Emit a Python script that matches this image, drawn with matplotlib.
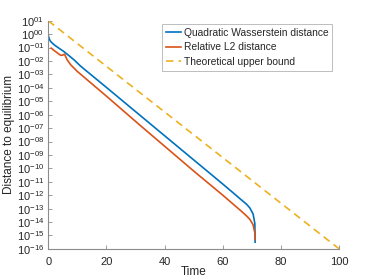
import numpy as np
import matplotlib
matplotlib.use('Agg')
import matplotlib.pyplot as plt
from matplotlib.ticker import FixedLocator, NullLocator

plt.rcParams['font.family'] = ['Liberation Sans', 'DejaVu Sans']
plt.rcParams['mathtext.fontset'] = 'custom'
plt.rcParams['mathtext.rm'] = 'Liberation Sans'
plt.rcParams['mathtext.it'] = 'Liberation Sans'

# --- data (log10 of the distance) ---
wass_t = [0, 0.4, 0.8, 2.0, 3.5, 5.4, 8.8, 11.1, 20, 30, 40, 50, 60, 63, 66, 68.2, 69.3, 70.4, 71.0, 71.1]
wass_log10 = [-0.09, -0.38, -0.54, -0.79, -1.02, -1.30, -1.90, -2.38, -3.97, -5.77, -7.57, -9.37, -11.17,
              -11.72, -12.28, -12.68, -12.95, -13.4, -14.1, -15.5]

l2_t = [1.0, 2.5, 3.7, 4.3, 5.0, 5.6, 6.5, 7.7, 10, 20, 31.5, 40, 50, 60, 63, 66, 68.2, 69.3, 70.4, 71.0, 71.1]
l2_log10 = [-1.04, -1.30, -1.49, -1.58, -1.56, -1.49, -1.91, -2.28, -2.78, -4.62, -6.78, -8.35, -10.2,
            -12.0, -12.56, -13.12, -13.55, -13.8, -14.2, -14.8, -15.3]

bound_t = [0, 100]
bound_log10 = [1, -16]

y_exponents = list(range(1, -17, -1))
x_ticks = [0, 20, 40, 60, 80, 100]

blue = '#0072BD'
orange = '#D95319'
yellow = '#EDB120'
dark = '#262626'

fig = plt.figure(figsize=(3.74, 2.80), dpi=100)
ax = fig.add_axes([0.129, 0.111, 0.778, 0.815])

ax.semilogy(wass_t, 10.0 ** np.array(wass_log10), color=blue, lw=1.2,
            label='Quadratic Wasserstein distance')
ax.semilogy(l2_t, 10.0 ** np.array(l2_log10), color=orange, lw=1.2,
            label='Relative L2 distance')
ax.semilogy(bound_t, 10.0 ** np.array(bound_log10), color=yellow, lw=1.2,
            dashes=(4.5, 3), label='Theoretical upper bound')

ax.set_xlim(0, 100)
ax.set_ylim(1e-16, 1e1)

ax.xaxis.set_major_locator(FixedLocator(x_ticks))
ax.set_xticklabels([str(v) for v in x_ticks])
ax.yaxis.set_major_locator(FixedLocator([10.0 ** e for e in y_exponents]))
ax.yaxis.set_minor_locator(NullLocator())
ax.set_yticklabels([r'$10^{%s}$' % ('%02d' % e if e >= 0 else '-%02d' % -e) for e in y_exponents])

for side in ['top', 'right']:
    ax.spines[side].set_visible(False)
for side in ['left', 'bottom']:
    ax.spines[side].set_color('#8c8c8c')
    ax.spines[side].set_linewidth(0.8)

ax.tick_params(direction='in', length=3, width=0.6, color='#8c8c8c',
               labelsize=8, labelcolor=dark, pad=3)
ax.tick_params(axis='x', pad=6)

ax.set_xlabel('Time', fontsize=8.5, color=dark, labelpad=-1)
ax.set_ylabel('Distance to equilibrium', fontsize=8.5, color=dark, labelpad=1)

leg = ax.legend(loc='upper right', bbox_to_anchor=(0.976, 0.985), fontsize=7.4,
                frameon=True, fancybox=False, handlelength=1.5, handletextpad=0.3,
                borderpad=0.35, labelspacing=0.45, borderaxespad=0)
leg.get_frame().set_edgecolor('#a0a0a0')
leg.get_frame().set_linewidth(0.6)
for t in leg.get_texts():
    t.set_color(dark)

fig.savefig('out.png', dpi=100)
